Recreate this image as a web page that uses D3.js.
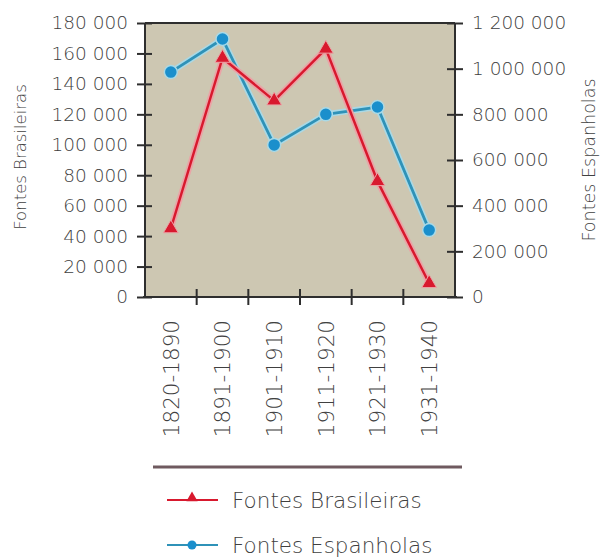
<!DOCTYPE html>
<html>
<head>
<meta charset="utf-8">
<script src="https://cdn.jsdelivr.net/npm/d3@7"></script>
<style>
  body { margin: 0; background: #fff; }
  svg text { font-family: "DejaVu Sans", sans-serif; font-weight: 200; fill: #404040; }
</style>
</head>
<body>
<svg id="chart" width="603" height="560"></svg>
<script>
// Periods and immigration counts from two sources
const periods = ["1820-1890", "1891-1900", "1901-1910", "1911-1920", "1921-1930", "1931-1940"];
const brasileiras = [45000, 157000, 129000, 163000, 76000, 9000];
const espanholas = [985000, 1130000, 666000, 800000, 832000, 293000];
const leftTicks = [0, 20000, 40000, 60000, 80000, 100000, 120000, 140000, 160000, 180000];
const rightTicks = [0, 200000, 400000, 600000, 800000, 1000000, 1200000];
const seriesNames = ["Fontes Brasileiras", "Fontes Espanholas"];

const RED = "#d8192e", RED_HALO = "#eba3a6";
const BLUE = "#1a8fcc", BLUE_HALO = "#a9d9e6", BLUE_LINE = "#2f92b8";
const AXIS = "#2e2e2e";
const TEXT = "#404040";

const svg = d3.select("#chart");
const plot = { left: 145, right: 455, top: 23, bottom: 297 };

const fmt = d3.formatLocale({ decimal: ",", thousands: " ", grouping: [3], currency: ["", ""] }).format(",");

const x = d3.scaleBand().domain(periods).range([plot.left, plot.right]).padding(0);
const yL = d3.scaleLinear().domain([0, 180000]).range([plot.bottom, plot.top]);
const yR = d3.scaleLinear().domain([0, 1200000]).range([plot.bottom, plot.top]);

// plot background
svg.append("rect")
  .attr("x", plot.left).attr("y", plot.top)
  .attr("width", plot.right - plot.left).attr("height", plot.bottom - plot.top)
  .attr("fill", "#cdc7b2");

// top border
svg.append("line")
  .attr("x1", plot.left).attr("x2", plot.right)
  .attr("y1", plot.top).attr("y2", plot.top)
  .attr("stroke", AXIS).attr("stroke-width", 2);

// left axis
const gL = svg.append("g").attr("transform", `translate(${plot.left},0)`)
  .call(d3.axisLeft(yL).tickValues(leftTicks).tickFormat(fmt).tickSize(8).tickPadding(9));
gL.selectAll(".tick line").attr("x2", -8).attr("x1", 7).attr("stroke", AXIS).attr("stroke-width", 2);
gL.select(".domain").attr("stroke", AXIS).attr("stroke-width", 2).attr("d", `M0,${plot.top}V${plot.bottom}`);
gL.selectAll(".tick text").style("font-size", "18.5px").attr("fill", TEXT)
  .style("font-family", "DejaVu Sans").style("font-weight", 200);

// right axis
const gR = svg.append("g").attr("transform", `translate(${plot.right},0)`)
  .call(d3.axisRight(yR).tickValues(rightTicks).tickFormat(fmt).tickSize(8).tickPadding(9));
gR.selectAll(".tick line").attr("x1", -8).attr("x2", 8).attr("stroke", AXIS).attr("stroke-width", 2);
gR.select(".domain").attr("stroke", AXIS).attr("stroke-width", 2).attr("d", `M0,${plot.top}V${plot.bottom}`);
gR.selectAll(".tick text").style("font-size", "18.5px").attr("fill", TEXT)
  .style("font-family", "DejaVu Sans").style("font-weight", 200);

// bottom axis: ticks at period boundaries, labels rotated under each period
svg.append("line")
  .attr("x1", plot.left - 2).attr("x2", plot.right + 2)
  .attr("y1", plot.bottom).attr("y2", plot.bottom)
  .attr("stroke", AXIS).attr("stroke-width", 2);
svg.append("g").selectAll("line")
  .data(periods.slice(1))
  .join("line")
  .attr("x1", d => x(d)).attr("x2", d => x(d))
  .attr("y1", plot.bottom - 8).attr("y2", plot.bottom + 8)
  .attr("stroke", AXIS).attr("stroke-width", 2);
svg.append("g").selectAll("text")
  .data(periods)
  .join("text")
  .attr("transform", d => `translate(${x(d) + x.bandwidth() / 2},${plot.bottom + 23}) rotate(-90)`)
  .attr("text-anchor", "end")
  .attr("dy", "0.36em")
  .style("font-size", "21.5px")
  .text(d => d);

// axis titles
svg.append("text")
  .attr("transform", `translate(20,157) rotate(-90)`)
  .attr("text-anchor", "middle").attr("dy", "0.36em")
  .style("font-size", "16.5px")
  .text("Fontes Brasileiras");
svg.append("text")
  .attr("transform", `translate(589,160) rotate(-90)`)
  .attr("text-anchor", "middle").attr("dy", "0.36em")
  .style("font-size", "17.5px")
  .text("Fontes Espanholas");

const cx = d => x(d) + x.bandwidth() / 2;
const lineL = d3.line().x((d, i) => cx(periods[i])).y(d => yL(d));
const lineR = d3.line().x((d, i) => cx(periods[i])).y(d => yR(d));
const tri = d3.symbol().type(d3.symbolTriangle).size(95);

// Spanish sources (right axis)
svg.append("path").datum(espanholas).attr("d", lineR)
  .attr("fill", "none").attr("stroke", BLUE_HALO).attr("stroke-width", 6).attr("stroke-linejoin", "round");
svg.append("path").datum(espanholas).attr("d", lineR)
  .attr("fill", "none").attr("stroke", BLUE_LINE).attr("stroke-width", 2.8).attr("stroke-linejoin", "round");
svg.append("g").selectAll("circle")
  .data(espanholas).join("circle")
  .attr("cx", (d, i) => cx(periods[i])).attr("cy", d => yR(d))
  .attr("r", 6.5).attr("fill", BLUE).attr("stroke", BLUE_HALO).attr("stroke-width", 1.5);

// Brazilian sources (left axis)
svg.append("path").datum(brasileiras).attr("d", lineL)
  .attr("fill", "none").attr("stroke", RED_HALO).attr("stroke-width", 6).attr("stroke-linejoin", "round");
svg.append("path").datum(brasileiras).attr("d", lineL)
  .attr("fill", "none").attr("stroke", RED).attr("stroke-width", 2.5).attr("stroke-linejoin", "round");
svg.append("g").selectAll("path")
  .data(brasileiras).join("path")
  .attr("transform", (d, i) => `translate(${cx(periods[i])},${yL(d)})`)
  .attr("d", tri).attr("fill", RED).attr("stroke", RED_HALO).attr("stroke-width", 1);

// legend
svg.append("line")
  .attr("x1", 153).attr("x2", 462).attr("y1", 467).attr("y2", 467)
  .attr("stroke", "#6f5a5f").attr("stroke-width", 3);

const legend = svg.append("g");
const items = [
  { name: seriesNames[0], color: RED, y: 500, marker: "tri" },
  { name: seriesNames[1], color: BLUE_LINE, y: 545, marker: "circle" }
];
items.forEach(it => {
  legend.append("line").attr("x1", 167).attr("x2", 218).attr("y1", it.y).attr("y2", it.y)
    .attr("stroke", it.color).attr("stroke-width", 2);
  if (it.marker === "tri") {
    legend.append("path").attr("transform", `translate(192,${it.y - 2})`)
      .attr("d", d3.symbol().type(d3.symbolTriangle).size(55)).attr("fill", RED);
  } else {
    legend.append("circle").attr("cx", 192).attr("cy", it.y).attr("r", 4.5).attr("fill", BLUE);
  }
  legend.append("text").attr("x", 232).attr("y", it.y).attr("dy", "0.36em")
    .style("font-size", "21.5px").text(it.name);
});
</script>
</body>
</html>
